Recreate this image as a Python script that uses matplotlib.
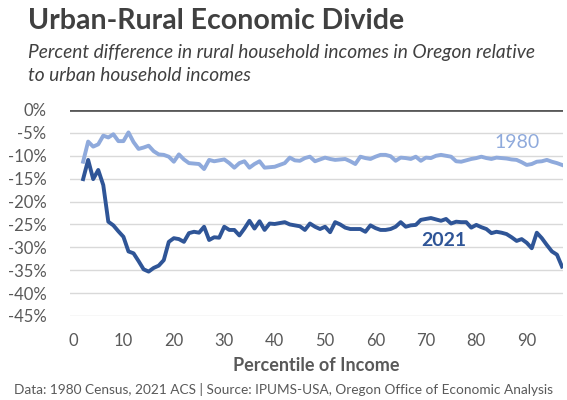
import matplotlib
matplotlib.use('Agg')
import matplotlib.pyplot as plt
import numpy as np

# percentile of income (x) and percent difference rural vs urban (y)
percentiles = list(range(2, 98))
diff_1980 = [-11.3, -6.9, -8.0, -7.5, -5.6, -6.0, -5.3, -6.8, -6.8, -4.9,
             -7.0, -8.5, -8.2, -7.8, -9.0, -9.7, -9.8, -10.2, -11.3, -9.7,
             -10.8, -11.6, -11.7, -11.8, -12.9, -10.9, -11.2, -11.0, -10.8, -11.6,
             -12.6, -11.6, -11.2, -12.6, -11.8, -11.2, -12.6, -12.5, -12.4, -12.0,
             -11.6, -10.4, -11.0, -11.1, -10.5, -10.2, -11.2, -10.8, -10.4, -10.7,
             -10.9, -10.8, -10.7, -11.2, -11.8, -10.2, -10.5, -10.7, -10.2, -9.8,
             -9.8, -10.1, -11.1, -10.4, -10.5, -10.7, -10.2, -11.1, -10.4, -10.5,
             -10.0, -9.8, -10.0, -10.2, -11.2, -11.3, -11.0, -10.7, -10.5, -10.2,
             -10.5, -10.7, -10.4, -10.5, -10.6, -10.8, -10.9, -11.4, -12.0, -11.8,
             -11.3, -11.2, -10.9, -11.3, -11.6, -12.0]
diff_2021 = [-15.1, -10.9, -15.1, -13.1, -16.4, -24.4, -25.2, -26.5, -27.7, -30.9,
             -31.3, -33.0, -34.8, -35.3, -34.5, -34.0, -32.8, -28.8, -28.0, -28.2,
             -28.8, -26.9, -26.6, -26.8, -25.5, -28.4, -27.8, -27.9, -25.5, -26.2,
             -26.2, -27.4, -25.9, -24.2, -25.9, -24.3, -26.2, -24.8, -24.9, -24.7,
             -24.5, -25.0, -25.2, -25.4, -26.2, -24.8, -25.5, -26.0, -25.5, -26.7,
             -24.5, -25.0, -25.7, -26.0, -26.0, -26.0, -26.6, -25.2, -25.8, -26.2,
             -26.2, -26.0, -25.5, -24.5, -25.5, -25.2, -25.1, -24.0, -23.8, -23.6,
             -23.9, -24.2, -23.8, -24.8, -24.4, -24.5, -24.5, -25.7, -25.1, -25.6,
             -26.0, -26.9, -26.6, -26.8, -27.1, -27.8, -28.6, -28.2, -29.0, -30.2,
             -26.8, -28.0, -29.5, -30.9, -31.6, -34.2]
y_ticks = list(range(0, -50, -5))
x_ticks = list(range(0, 100, 10))

plt.rcParams['font.family'] = ['Lato', 'DejaVu Sans']
gray = '#595959'

fig = plt.figure(figsize=(5.67, 4.0), dpi=100)
ax = fig.add_axes([70/567, 1-316/400, 493/567, 206/400])

ax.plot(percentiles, diff_1980, color='#8FAADC', lw=2.8, solid_joinstyle='round')
ax.plot(percentiles, diff_2021, color='#2F5597', lw=2.8, solid_joinstyle='round')

ax.set_xlim(-0.6, 97.2)
ax.set_ylim(-45, 0)
ax.set_yticks(y_ticks)
ax.set_yticklabels([f'{t}%' for t in y_ticks])
ax.set_xticks(x_ticks)
ax.grid(axis='y', color='#D9D9D9', lw=1)
ax.axhline(0, color='#595959', lw=2, zorder=3)
ax.set_axisbelow(True)
for s in ax.spines.values():
  s.set_visible(False)
ax.tick_params(length=0, labelsize=12, colors=gray)
ax.tick_params(axis='x', pad=12)
ax.tick_params(axis='y', pad=17)

ax.set_xlabel('Percentile of Income', fontsize=13, fontweight='bold', color=gray, labelpad=6)

ax.text(88, -7.2, '1980', color='#8FAADC', fontsize=14, ha='center', va='center')
ax.text(73.6, -28.6, '2021', color='#2F5597', fontsize=14, fontweight='bold', ha='center', va='center')

fig.text(28/567, 1-21/400, 'Urban-Rural Economic Divide', fontsize=20.5, fontweight='bold', color='#404040', va='center')
fig.text(28/567, 1-64/400, 'Percent difference in rural household incomes in Oregon relative\nto urban household incomes',
         fontsize=13.8, style='italic', color='#404040', va='center', linespacing=1.4)
fig.text(283/567, 1-390/400, 'Data: 1980 Census, 2021 ACS | Source: IPUMS-USA, Oregon Office of Economic Analysis',
         fontsize=9.8, color=gray, ha='center', va='center')

fig.savefig('out.png', dpi=100)
